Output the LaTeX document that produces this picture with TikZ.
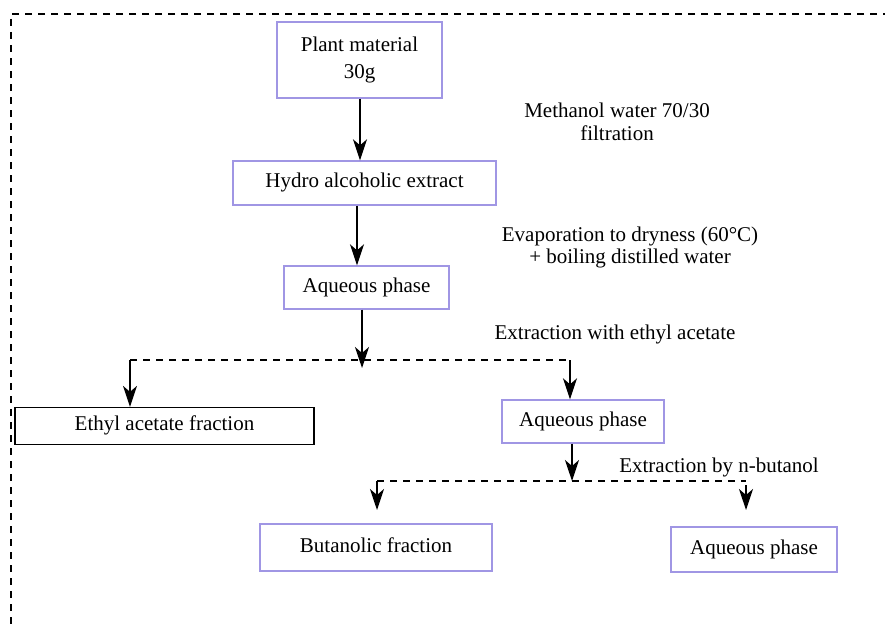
\documentclass[tikz,border=0pt]{standalone}
\usepackage{fontspec}
\setmainfont{Liberation Serif}
\usetikzlibrary{arrows.meta}
\definecolor{boxc}{RGB}{160,150,228}
\begin{document}
\begin{tikzpicture}[x=1pt,y=-1pt,
  font=\fontsize{21}{27}\selectfont,
  pbox/.style={draw=boxc,line width=1.4pt,inner sep=0pt,text height=14.3pt,text depth=4.6pt},
  kbox/.style={draw=black,line width=1.3pt,inner sep=0pt,text height=14.3pt,text depth=4.6pt},
  arr/.style={line width=1.3pt,-{Stealth[length=21pt,width=14pt,inset=6pt]}},
  dline/.style={line width=1.1pt,dash pattern=on 7pt off 6pt},
  lbl/.style={anchor=base,inner sep=0pt}]
\useasboundingbox (0,0) rectangle (885,626);
% outer dashed frame (cut by the page edges)
\draw[dline,line width=1.2pt] (890,14) -- (11,14) -- (11,630);

% boxes
\node[draw=boxc,line width=1.4pt,inner sep=0pt,align=center,minimum width=165pt,minimum height=76pt] (plant) at (359.5,60) {Plant material\\30g};
\node[pbox,minimum width=263pt,minimum height=44pt] (hydro) at (364.5,183) {Hydro alcoholic extract};
\node[pbox,minimum width=165pt,minimum height=43pt] (aq1) at (366.5,287.5) {Aqueous phase};
\node[kbox,minimum width=299pt,minimum height=37pt] (ethyl) at (164.5,426) {Ethyl acetate fraction};
\node[pbox,minimum width=162pt,minimum height=43pt] (aq2) at (583,421.5) {Aqueous phase};
\node[pbox,minimum width=232pt,minimum height=47pt] (but) at (376,547.5) {Butanolic fraction};
\node[pbox,minimum width=166pt,minimum height=45pt] (aq3) at (754,549.5) {Aqueous phase};

% labels
\node[lbl] (l1a) at (617,117) {Methanol water 70/30};
\node[lbl] (l1b) at (617,140) {filtration};
\node[lbl] (l2a) at (630,241) {Evaporation to dryness (60°C)};
\node[lbl] (l2b) at (630,263) {+ boiling distilled water};
\node[lbl] (l3) at (615,339) {Extraction with ethyl acetate};
\node[lbl] (l4) at (719,472) {Extraction by n-butanol};

% junction coordinates
\coordinate (j1) at (362,368);
\coordinate (j1l) at (130,360);
\coordinate (j1r) at (570,360);
\coordinate (j2) at (572,481);
\coordinate (j2l) at (377,481);
\coordinate (j2r) at (746,481);
\coordinate (b1) at (377,510);
\coordinate (a3t) at (746,485);
\coordinate (a3) at (746,510);

% connectors
\draw[arr] ([xshift=0.5pt]plant.south) -- ([xshift=0.5pt]plant.south |- hydro.north);
\draw[arr] ([xshift=-7.5pt]hydro.south) -- ([xshift=-7.5pt]hydro.south |- aq1.north);
\draw[arr] (aq1.south -| j1) -- (j1);
\draw[dline] (j1l) -- (j1r);
\draw[arr] (j1l) -- (j1l |- ethyl.north);
\draw[arr] (j1r) -- (j1r |- aq2.north);
\draw[arr] (aq2.south -| j2) -- (j2);
\draw[dline] (j2l) -- (j2r);
\draw[arr] (j2l) -- (b1);
\draw[arr] (a3t) -- (a3);
\end{tikzpicture}
\end{document}
